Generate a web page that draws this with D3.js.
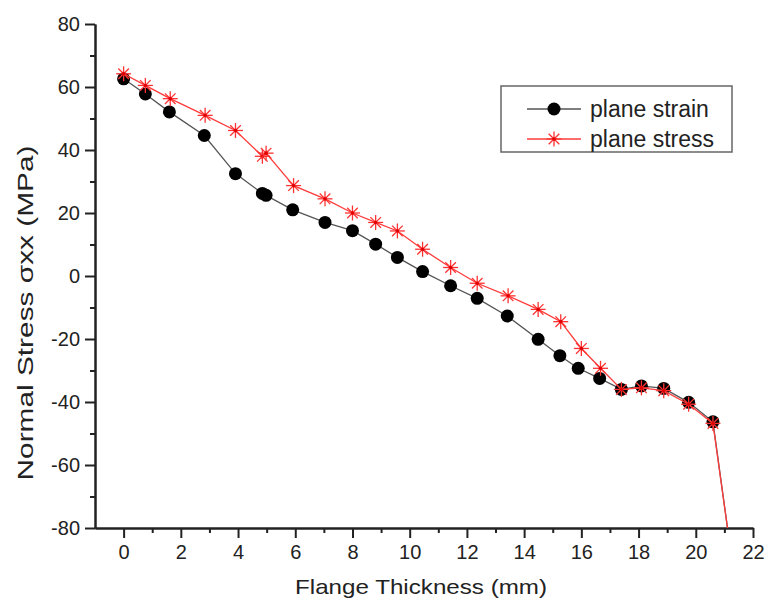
<!DOCTYPE html>
<html>
<head>
<meta charset="utf-8">
<script src="https://cdn.jsdelivr.net/npm/d3@7"></script>
<style>
body { margin: 0; background: #fff; }
text { font-family: "Liberation Sans", Arial, sans-serif; fill: #222; }
.axis path, .axis line { stroke: #222; stroke-width: 2; }
</style>
</head>
<body>
<div class="container"></div>
<script>
var strainX = [0, 0.76, 1.6, 2.82, 3.91, 4.85, 4.98, 5.91, 7.04, 8.0, 8.81, 9.57, 10.45, 11.43, 12.36, 13.41, 14.49, 15.25, 15.89, 16.64, 17.40, 18.1, 18.88, 19.75, 20.6, 21.2];
var strainY = [62.6, 57.8, 52.1, 44.6, 32.5, 26.2, 25.6, 21.0, 17.0, 14.4, 10.1, 5.9, 1.4, -3.1, -7.1, -12.7, -20.1, -25.3, -29.3, -32.5, -36.0, -34.9, -35.7, -40.1, -46.3, -86];
var stressX = [0, 0.76, 1.63, 2.85, 3.91, 4.85, 4.98, 5.94, 7.04, 8.0, 8.81, 9.57, 10.45, 11.43, 12.36, 13.44, 14.49, 15.28, 16.0, 16.67, 17.40, 18.1, 18.88, 19.75, 20.6, 21.2];
var stressY = [64.2, 60.5, 56.3, 51.0, 46.2, 38.0, 39.0, 28.7, 24.5, 20.0, 17.0, 14.3, 8.5, 2.7, -2.3, -6.3, -10.6, -14.5, -23.0, -29.3, -36.0, -35.5, -36.4, -40.7, -46.8, -86];
var xTicks = [0, 2, 4, 6, 8, 10, 12, 14, 16, 18, 20, 22];
var xMinor = [1, 3, 5, 7, 9, 11, 13, 15, 17, 19, 21];
var yTicks = [-80, -60, -40, -20, 0, 20, 40, 60, 80];
var yMinor = [-70, -50, -30, -10, 10, 30, 50, 70];
var seriesNames = ["plane strain", "plane stress"];

const WIDTH = 765;
const HEIGHT = 604;
const LEFT = 95, RIGHT = 753, TOP = 24, BOTTOM = 528;

var svg = d3.select('.container').append('svg')
	.attr('width', WIDTH)
	.attr('height', HEIGHT);

var xScale = d3.scaleLinear().domain([-1, 22]).range([LEFT, RIGHT]);
var yScale = d3.scaleLinear().domain([-80, 80]).range([BOTTOM, TOP]);

var translate = function(x, y){ return "translate(" + x + "," + y + ")"; };
var plain = function(v){ return String(v); };

// minor ticks
svg.append('g').attr('class', 'axis').attr('transform', translate(0, BOTTOM))
	.call(d3.axisBottom(xScale).tickValues(xMinor).tickSize(5).tickSizeOuter(0).tickFormat(""));
svg.append('g').attr('class', 'axis').attr('transform', translate(LEFT, 0))
	.call(d3.axisLeft(yScale).tickValues(yMinor).tickSize(5).tickSizeOuter(0).tickFormat(""));

// major ticks
svg.append('g').attr('class', 'axis').attr('transform', translate(0, BOTTOM))
	.call(d3.axisBottom(xScale).tickValues(xTicks).tickSize(10).tickSizeOuter(0).tickPadding(7).tickFormat(plain));
svg.append('g').attr('class', 'axis').attr('transform', translate(LEFT, 0))
	.call(d3.axisLeft(yScale).tickValues(yTicks).tickSize(10).tickSizeOuter(0).tickPadding(5).tickFormat(plain));
svg.selectAll('.axis text').style('font-size', '20px').attr('fill', '#222');

svg.append('text')
	.attr('x', 421).attr('y', 594)
	.attr('text-anchor', 'middle')
	.style('font-size', '21px')
	.attr('textLength', 252).attr('lengthAdjust', 'spacingAndGlyphs')
	.text('Flange Thickness (mm)');

svg.append('text')
	.attr('transform', translate(33, 313) + ' rotate(-90)')
	.attr('text-anchor', 'middle')
	.style('font-size', '22px')
	.attr('textLength', 335).attr('lengthAdjust', 'spacingAndGlyphs')
	.text('Normal Stress σxx (MPa)');

svg.append('clipPath').attr('id', 'plot')
	.append('rect').attr('x', LEFT).attr('y', TOP - 10).attr('width', RIGHT - LEFT + 10).attr('height', BOTTOM - TOP + 10);

var plot = svg.append('g').attr('clip-path', 'url(#plot)');

var strain = strainX.map(function(x, i){ return {x: x, y: strainY[i]}; });
var stress = stressX.map(function(x, i){ return {x: x, y: stressY[i]}; });

var line = d3.line()
	.x(function(d){ return xScale(d.x); })
	.y(function(d){ return yScale(d.y); });

plot.append('path').attr('d', line(strain))
	.attr('fill', 'none').attr('stroke', '#555').attr('stroke-width', 1.3);
plot.selectAll('circle.strain').data(strain).enter().append('circle')
	.attr('class', 'strain')
	.attr('cx', function(d){ return xScale(d.x); })
	.attr('cy', function(d){ return yScale(d.y); })
	.attr('r', 6.5).attr('fill', '#000');

plot.append('path').attr('d', line(stress))
	.attr('fill', 'none').attr('stroke', '#ff3b3b').attr('stroke-width', 1.3);

var star = function(g, r){
	[0, 45, 90, 135].forEach(function(a){
		var c = Math.cos(a * Math.PI / 180) * r, s = Math.sin(a * Math.PI / 180) * r;
		g.append('line').attr('x1', -c).attr('y1', -s).attr('x2', c).attr('y2', s)
			.attr('stroke', '#ff3333').attr('stroke-width', 1.3);
	});
	g.append('circle').attr('r', 1.8).attr('fill', '#e00000');
};

plot.selectAll('g.stress').data(stress).enter().append('g')
	.attr('class', 'stress')
	.attr('transform', function(d){ return translate(xScale(d.x), yScale(d.y)); })
	.each(function(){ star(d3.select(this), 7.5); });

// legend
var legend = svg.append('g');
legend.append('rect')
	.attr('x', 501).attr('y', 86).attr('width', 231).attr('height', 66)
	.attr('fill', '#fff').attr('stroke', '#666').attr('stroke-width', 1.5);
var rows = [109, 139];
legend.append('line').attr('x1', 527).attr('x2', 581).attr('y1', rows[0]).attr('y2', rows[0])
	.attr('stroke', '#555').attr('stroke-width', 1.3);
legend.append('circle').attr('cx', 554).attr('cy', rows[0]).attr('r', 6.5).attr('fill', '#000');
legend.append('line').attr('x1', 527).attr('x2', 581).attr('y1', rows[1]).attr('y2', rows[1])
	.attr('stroke', '#ff3b3b').attr('stroke-width', 1.3);
star(legend.append('g').attr('transform', translate(554, rows[1])), 7.5);
legend.selectAll('text.leg').data(seriesNames).enter().append('text')
	.attr('class', 'leg')
	.attr('x', 590)
	.attr('y', function(d, i){ return rows[i] + 8; })
	.style('font-size', '23px')
	.text(function(d){ return d; });
</script>
</body>
</html>
